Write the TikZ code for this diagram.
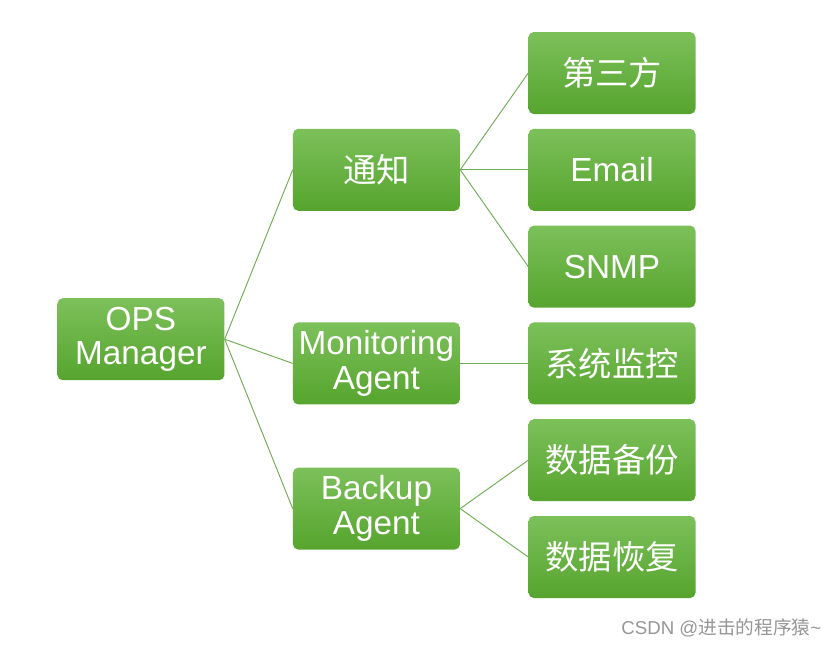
\documentclass[tikz,border=0pt]{standalone}
\usepackage{fontspec}
\setmainfont{Liberation Sans}
\newfontfamily\cjk{Noto Sans CJK SC}
\usetikzlibrary{positioning, calc}
\definecolor{boxtop}{RGB}{124,192,90}
\definecolor{boxbottom}{RGB}{86,164,46}
\definecolor{linkgreen}{RGB}{112,172,82}
\definecolor{markgray}{RGB}{150,150,150}

\begin{document}
\begin{tikzpicture}[
  x=0.75pt, y=-0.75pt,
  node distance=10.7pt and 51pt,
  box/.style={rounded corners=4pt, top color=boxtop, bottom color=boxbottom,
    minimum width=125.25pt, minimum height=61.5pt, inner sep=0pt,
    text=white, align=center, font=\fontsize{25}{26}\selectfont},
  link/.style={draw=linkgreen, line width=0.7pt}
]
  \useasboundingbox (0,0) rectangle (839,647);

  % right column
  \node[box] (third) at (612,73) {\cjk 第三方};
  \node[box] (email) [below=of third] {Email};
  \node[box] (snmp) [below=of email] {SNMP};
  \node[box] (sysmon) [below=of snmp] {\cjk 系统监控};
  \node[box] (backup) [below=of sysmon] {\cjk 数据备份};
  \node[box] (restore) [below=of backup] {\cjk 数据恢复};

  % middle column
  \coordinate (bmid) at ($(backup.west)!0.5!(restore.west)$);
  \node[box] (notify) [left=of email] {\cjk 通知};
  \node[box] (monagent) [left=of sysmon] {Monitoring\\Agent};
  \node[box] (bakagent) [left=of bmid] {Backup\\Agent};

  % root
  \coordinate (rmid) at ($(notify.west)!0.5!(bakagent.west)$);
  \node[box] (ops) [left=of rmid] {OPS\\Manager};

  \draw[link] (ops.east) -- (notify.west);
  \draw[link] (ops.east) -- (monagent.west);
  \draw[link] (ops.east) -- (bakagent.west);
  \draw[link] (notify.east) -- (third.west);
  \draw[link] (notify.east) -- (email.west);
  \draw[link] (notify.east) -- (snmp.west);
  \draw[link] (monagent.east) -- (sysmon.west);
  \draw[link] (bakagent.east) -- (backup.west);
  \draw[link] (bakagent.east) -- (restore.west);

  \node[anchor=east, text=markgray, font=\fontsize{14}{16}\selectfont] (mark) at (826,628)
    {CSDN @{\cjk 进击的程序猿}\textasciitilde};
\end{tikzpicture}
\end{document}
